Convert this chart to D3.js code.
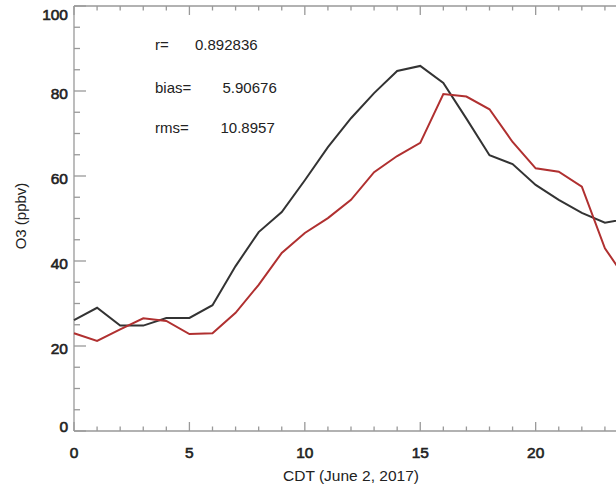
<!DOCTYPE html>
<html>
<head>
<meta charset="utf-8">
<script src="https://cdn.jsdelivr.net/npm/d3@7"></script>
<style>
  body { margin: 0; background: #fff; }
  text { font-family: "Liberation Sans", Helvetica, Arial, sans-serif; fill: #222; }
</style>
</head>
<body>
<div id="chart"></div>
<script>
// data (hour of day, O3 ppbv)
var hours = [0,1,2,3,4,5,6,7,8,9,10,11,12,13,14,15,16,17,18,19,20,21,22,23,24];
var observed = [26.1,29.0,24.8,24.8,26.6,26.6,29.6,38.8,46.8,51.5,59.0,66.8,73.6,79.5,84.7,85.9,81.9,73.5,64.9,62.8,57.9,54.4,51.3,49.0,50.0];
var modeled = [23.0,21.2,23.9,26.5,25.9,22.8,23.0,27.8,34.4,41.9,46.6,50.1,54.4,60.9,64.7,67.8,79.3,78.7,75.7,68.0,61.8,61.0,57.5,43.0,35.0];
var xTicks = [0,5,10,15,20];
var yTicks = [0,20,40,60,80,100];
var stats = [{name:'r=', value:'0.892836'},{name:'bias=', value:'5.90676'},{name:'rms=', value:'10.8957'}];

var width = 616, height = 486;
var margin = {left:74, top:6, bottomY:431, right:628};

var svg = d3.select('#chart').append('svg')
  .attr('width', width)
  .attr('height', height);

var x = d3.scaleLinear().domain([0,24]).range([margin.left, margin.right]);
var y = d3.scaleLinear().domain([0,100]).range([margin.bottomY, margin.top]);

var axisColor = '#999';
var g = svg.append('g').attr('stroke', axisColor).attr('stroke-width', 1.3);

// box
g.append('line').attr('x1', x(0)).attr('x2', x(24)).attr('y1', y(0)).attr('y2', y(0));
g.append('line').attr('x1', x(0)).attr('x2', x(24)).attr('y1', y(100)).attr('y2', y(100));
g.append('line').attr('x1', x(0)).attr('x2', x(0)).attr('y1', y(0)).attr('y2', y(100));
g.append('line').attr('x1', x(24)).attr('x2', x(24)).attr('y1', y(0)).attr('y2', y(100));

// x ticks (bottom and top, pointing inward)
d3.range(0, 25, 1).forEach(function(h){
  var len = (h % 5 === 0) ? 9 : 4.5;
  g.append('line').attr('x1', x(h)).attr('x2', x(h)).attr('y1', y(0)).attr('y2', y(0) - len);
  g.append('line').attr('x1', x(h)).attr('x2', x(h)).attr('y1', y(100)).attr('y2', y(100) + len);
});
// y ticks
d3.range(0, 101, 5).forEach(function(v){
  var len = (v % 20 === 0) ? 12 : 6;
  g.append('line').attr('x1', x(0)).attr('x2', x(0) + len).attr('y1', y(v)).attr('y2', y(v));
});

// tick labels (a little heavier than regular)
svg.selectAll('.xlab').data(xTicks).enter().append('text')
  .attr('class','xlab')
  .attr('x', function(d){return x(d);})
  .attr('y', 458)
  .attr('text-anchor','middle')
  .style('font-size','15.5px')
  .style('stroke','#222').style('stroke-width','0.6px')
  .text(function(d){return d;});

svg.selectAll('.ylab').data(yTicks).enter().append('text')
  .attr('class','ylab')
  .attr('x', 68)
  .attr('y', function(d){ return Math.min(Math.max(y(d) + 2, 14.5), 426) + 5.5; })
  .attr('text-anchor','end')
  .style('font-size','15.5px')
  .style('stroke','#222').style('stroke-width','0.6px')
  .text(function(d){return d;});

// axis titles
svg.append('text')
  .attr('x', x(12)).attr('y', 480.5)
  .attr('text-anchor','middle')
  .style('font-size','15.5px')
  .text('CDT (June 2, 2017)');

svg.append('text')
  .attr('transform','translate(25.5,216) rotate(-90)')
  .attr('text-anchor','middle')
  .style('font-size','15px')
  .text('O3 (ppbv)');

// lines
var line = d3.line()
  .x(function(d,i){return x(hours[i]);})
  .y(function(d){return y(d);});

svg.append('path').datum(observed)
  .attr('d', line)
  .attr('fill','none')
  .attr('stroke','#333')
  .attr('stroke-width',2);

svg.append('path').datum(modeled)
  .attr('d', line)
  .attr('fill','none')
  .attr('stroke','#b03030')
  .attr('stroke-width',2);

// statistics text
var statY = [50, 93, 133];
var statX = [195, 222.5, 220.5];
stats.forEach(function(s, i){
  svg.append('text').attr('x', 155).attr('y', statY[i]).style('font-size','15px').text(s.name);
  svg.append('text').attr('x', statX[i]).attr('y', statY[i]).style('font-size','15px').text(s.value);
});
</script>
</body>
</html>
